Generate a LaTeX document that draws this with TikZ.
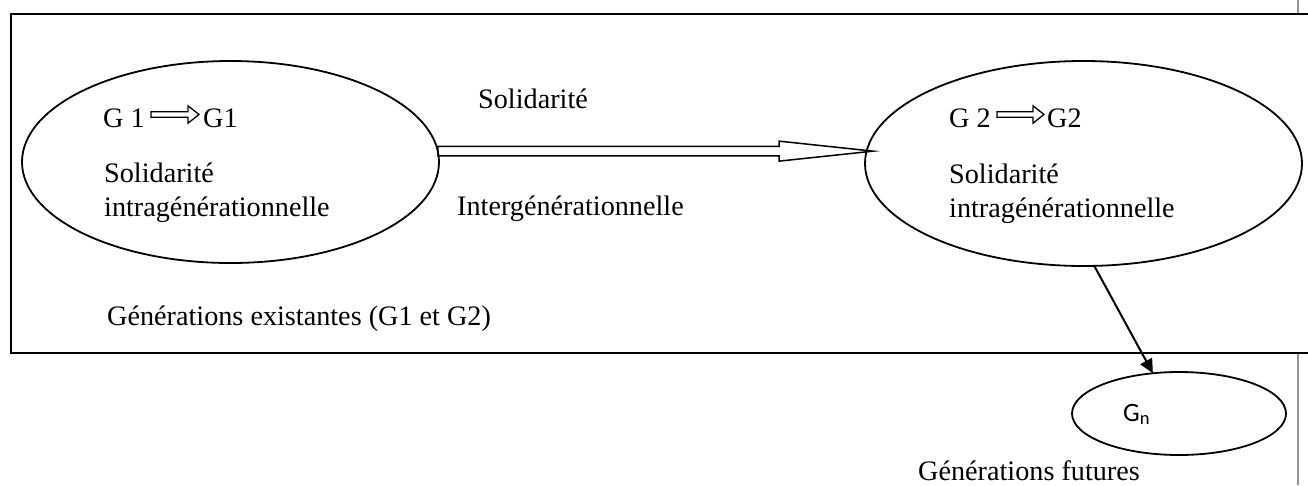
\documentclass[tikz,border=0pt]{standalone}
\usepackage{fontspec}
\setmainfont{Liberation Serif}
\newfontfamily\gnfont{Carlito}
\usetikzlibrary{shapes.geometric,arrows.meta,calc}

\begin{document}
\begin{tikzpicture}[x=1pt,y=-1pt,
  frame/.style={draw=black, line width=2pt, fill=white},
  gen/.style={ellipse, draw, line width=1.8pt, inner sep=0pt, outer sep=0pt},
  lbl/.style={font=\fontsize{28.2}{34}\selectfont, inner sep=0pt, anchor=base west},
  blockarrow/.style={draw, line width=1.5pt, line join=miter},
  flow/.style={draw, line width=2pt, -{Triangle[length=14pt,width=13pt]}}
]
\useasboundingbox (0,0) rectangle (1308,485);
\clip (0,0) rectangle (1308,485);

% page rule on the right and the frame of the existing generations
\draw[gray!85, line width=2pt] (1298,0) -- (1298,485);
\draw[frame] (11,14) rectangle (1340,353);

% generation ellipses
\node[gen, minimum width=417pt, minimum height=202pt] (e1) at (230.5,162) {};
\node[gen, minimum width=437pt, minimum height=205pt] (e2) at (1083.5,163.5) {};
\node[gen, minimum width=214pt, minimum height=83pt] (gn) at (1179,413.5) {};

% texts inside the first ellipse
\node[lbl] (g1a) at (103,127) {G 1};
\node[lbl] (g1b) at (203,127) {G1};
\node[lbl] (s1) at (104,182) {Solidarité};
\node[lbl] (i1) at (104,216) {intragénérationnelle};

% texts inside the second ellipse
\node[lbl] (g2a) at (949,127) {G 2};
\node[lbl] (g2b) at (1047,127) {G2};
\node[lbl] (s2) at (949,183) {Solidarité};
\node[lbl] (i2) at (949,217) {intragénérationnelle};

% small block arrows G -> G
\coordinate (t1) at ($(g1a.base east)+(6,-12.5)$);
\coordinate (h1) at ($(g1b.base west)+(-4,-12.5)$);
\path[blockarrow, line width=1.3pt] ($(t1)+(0,-2.7)$) -- ($(h1)+(-11,-2.7)$) -- ($(h1)+(-11,-8.7)$) -- (h1)
  -- ($(h1)+(-11,8.7)$) -- ($(h1)+(-11,2.7)$) -- ($(t1)+(0,2.7)$) -- cycle;
\coordinate (t2) at ($(g2a.base east)+(6,-12.5)$);
\coordinate (h2) at ($(g2b.base west)+(-3,-12.5)$);
\path[blockarrow, line width=1.3pt] ($(t2)+(0,-2.7)$) -- ($(h2)+(-11,-2.7)$) -- ($(h2)+(-11,-8.7)$) -- (h2)
  -- ($(h2)+(-11,8.7)$) -- ($(h2)+(-11,2.7)$) -- ($(t2)+(0,2.7)$) -- cycle;

% intergenerational block arrow between the ellipses
\coordinate (tail) at (e1.3);
\coordinate (tip) at ($(e2.west |- tail)+(8,0)$);
\path[blockarrow] ($(tail)+(0,-4.7)$) -- ($(tip)+(-94,-4.7)$) -- ($(tip)+(-94,-10)$) -- (tip)
  -- ($(tip)+(-94,10)$) -- ($(tip)+(-94,4.7)$) -- ($(tail)+(0,4.7)$) -- cycle;
\node[lbl] (sol) at (478,108) {Solidarité};
\node[lbl] (inter) at (457,215) {Intergénérationnelle};

% frame caption
\node[lbl] (exist) at (107,325) {Générations existantes (G1 et G2)};

% future generations
\node[inner sep=0pt, anchor=base west, font=\gnfont\fontsize{26.5}{31}\selectfont] (gnl) at (1123,421) {G\textsubscript{n}};
\draw[flow] (e2.-84) -- (gn.123);
\node[lbl] (fut) at (918,480) {Générations futures};
\end{tikzpicture}
\end{document}
